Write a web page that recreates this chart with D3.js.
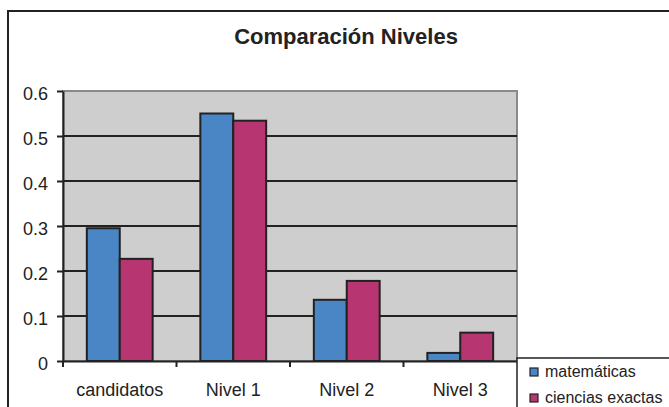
<!DOCTYPE html>
<html>
<head>
<meta charset="utf-8">
<script src="https://cdn.jsdelivr.net/npm/d3@7"></script>
<style>
  body { margin: 0; background: #fff; }
  svg { display: block; font-family: "Liberation Sans", Arial, sans-serif; }
</style>
</head>
<body>
<div id="chart"></div>
<script>
// data
const categories = ["candidatos", "Nivel 1", "Nivel 2", "Nivel 3"];
const seriesNames = ["matemáticas", "ciencias exactas"];
const matematicas = [0.295, 0.550, 0.136, 0.018];
const cienciasExactas = [0.227, 0.534, 0.178, 0.063];
const yTicks = [0, 0.1, 0.2, 0.3, 0.4, 0.5, 0.6];
const colors = ["#4a86c6", "#b73672"];

const width = 669, height = 407;
const plot = { left: 63, right: 517, top: 91, bottom: 361 };

const svg = d3.select("#chart")
  .append("svg")
    .attr("width", width)
    .attr("height", height);

// outer chart frame (runs off the right and bottom edges)
svg.append("rect")
  .attr("x", 8).attr("y", 11)
  .attr("width", 700).attr("height", 430)
  .attr("fill", "#fff")
  .attr("stroke", "#222")
  .attr("stroke-width", 2);

svg.append("text")
  .attr("x", 346)
  .attr("y", 44)
  .attr("text-anchor", "middle")
  .style("font-size", "22px")
  .style("font-weight", "bold")
  .attr("fill", "#222")
  .text("Comparación Niveles");

const x0 = d3.scaleBand()
  .domain(categories)
  .range([plot.left, plot.right]);

const x1 = d3.scaleBand()
  .domain(seriesNames)
  .range([x0.bandwidth() * 0.21, x0.bandwidth() * 0.79]);

const y = d3.scaleLinear()
  .domain([0, 0.6])
  .range([plot.bottom, plot.top]);

// plot area background
svg.append("rect")
  .attr("x", plot.left).attr("y", plot.top)
  .attr("width", plot.right - plot.left)
  .attr("height", plot.bottom - plot.top)
  .attr("fill", "#cecece")
  .attr("stroke", "#8a8a8a")
  .attr("stroke-width", 2);

// gridlines
svg.append("g")
  .selectAll("line")
  .data(yTicks.filter(d => d > 0 && d < 0.6))
  .join("line")
    .attr("x1", plot.left).attr("x2", plot.right)
    .attr("y1", d => y(d)).attr("y2", d => y(d))
    .attr("stroke", "#222")
    .attr("stroke-width", 2);

// bars
const table = categories.map((c, i) => ({
  category: c,
  values: [matematicas[i], cienciasExactas[i]]
}));

svg.append("g")
  .selectAll("g")
  .data(table)
  .join("g")
    .attr("transform", d => `translate(${x0(d.category)},0)`)
  .selectAll("rect")
  .data(d => d.values.map((v, j) => ({ name: seriesNames[j], value: v, color: colors[j] })))
  .join("rect")
    .attr("x", d => x1(d.name))
    .attr("y", d => y(d.value))
    .attr("width", x1.bandwidth())
    .attr("height", d => y(0) - y(d.value))
    .attr("fill", d => d.color)
    .attr("stroke", "#222")
    .attr("stroke-width", 2);

// y axis
const yAxis = svg.append("g")
  .attr("transform", `translate(${plot.left},0)`)
  .call(d3.axisLeft(y).tickValues(yTicks).tickFormat(d => d === 0 ? "0" : d3.format(".1f")(d)).tickSize(6).tickSizeOuter(0));
yAxis.select(".domain").attr("stroke", "#222").attr("stroke-width", 2);
yAxis.selectAll(".tick line").attr("stroke", "#222").attr("stroke-width", 2);
yAxis.selectAll(".tick text")
  .attr("x", -15)
  .attr("dy", "0.45em")
  .style("font-size", "18px")
  .attr("fill", "#222");

// x axis
const xAxis = svg.append("g")
  .attr("transform", `translate(0,${plot.bottom})`)
  .call(d3.axisBottom(x0).tickSize(0).tickSizeOuter(0));
xAxis.select(".domain").attr("stroke", "#222").attr("stroke-width", 2);
xAxis.selectAll(".tick text")
  .attr("y", 35)
  .attr("dy", null)
  .style("font-size", "18px")
  .attr("fill", "#222");

// category boundary ticks
svg.append("g")
  .selectAll("line")
  .data(categories)
  .join("line")
    .attr("x1", d => x0(d)).attr("x2", d => x0(d))
    .attr("y1", plot.bottom).attr("y2", plot.bottom + 6)
    .attr("stroke", "#222")
    .attr("stroke-width", 2);

// legend
const legend = svg.append("g");
legend.append("rect")
  .attr("x", 517).attr("y", 358)
  .attr("width", 200).attr("height", 80)
  .attr("fill", "#fff")
  .attr("stroke", "#222")
  .attr("stroke-width", 1.5);

const items = legend.selectAll("g.item")
  .data(seriesNames)
  .join("g")
    .attr("class", "item")
    .attr("transform", (d, i) => `translate(530,${368 + i * 26})`);
items.append("rect")
  .attr("width", 8).attr("height", 8)
  .attr("fill", (d, i) => colors[i])
  .attr("stroke", "#222")
  .attr("stroke-width", 1.2);
items.append("text")
  .attr("x", 15)
  .attr("y", 9)
  .style("font-size", "16px")
  .attr("fill", "#222")
  .text(d => d);
</script>
</body>
</html>
